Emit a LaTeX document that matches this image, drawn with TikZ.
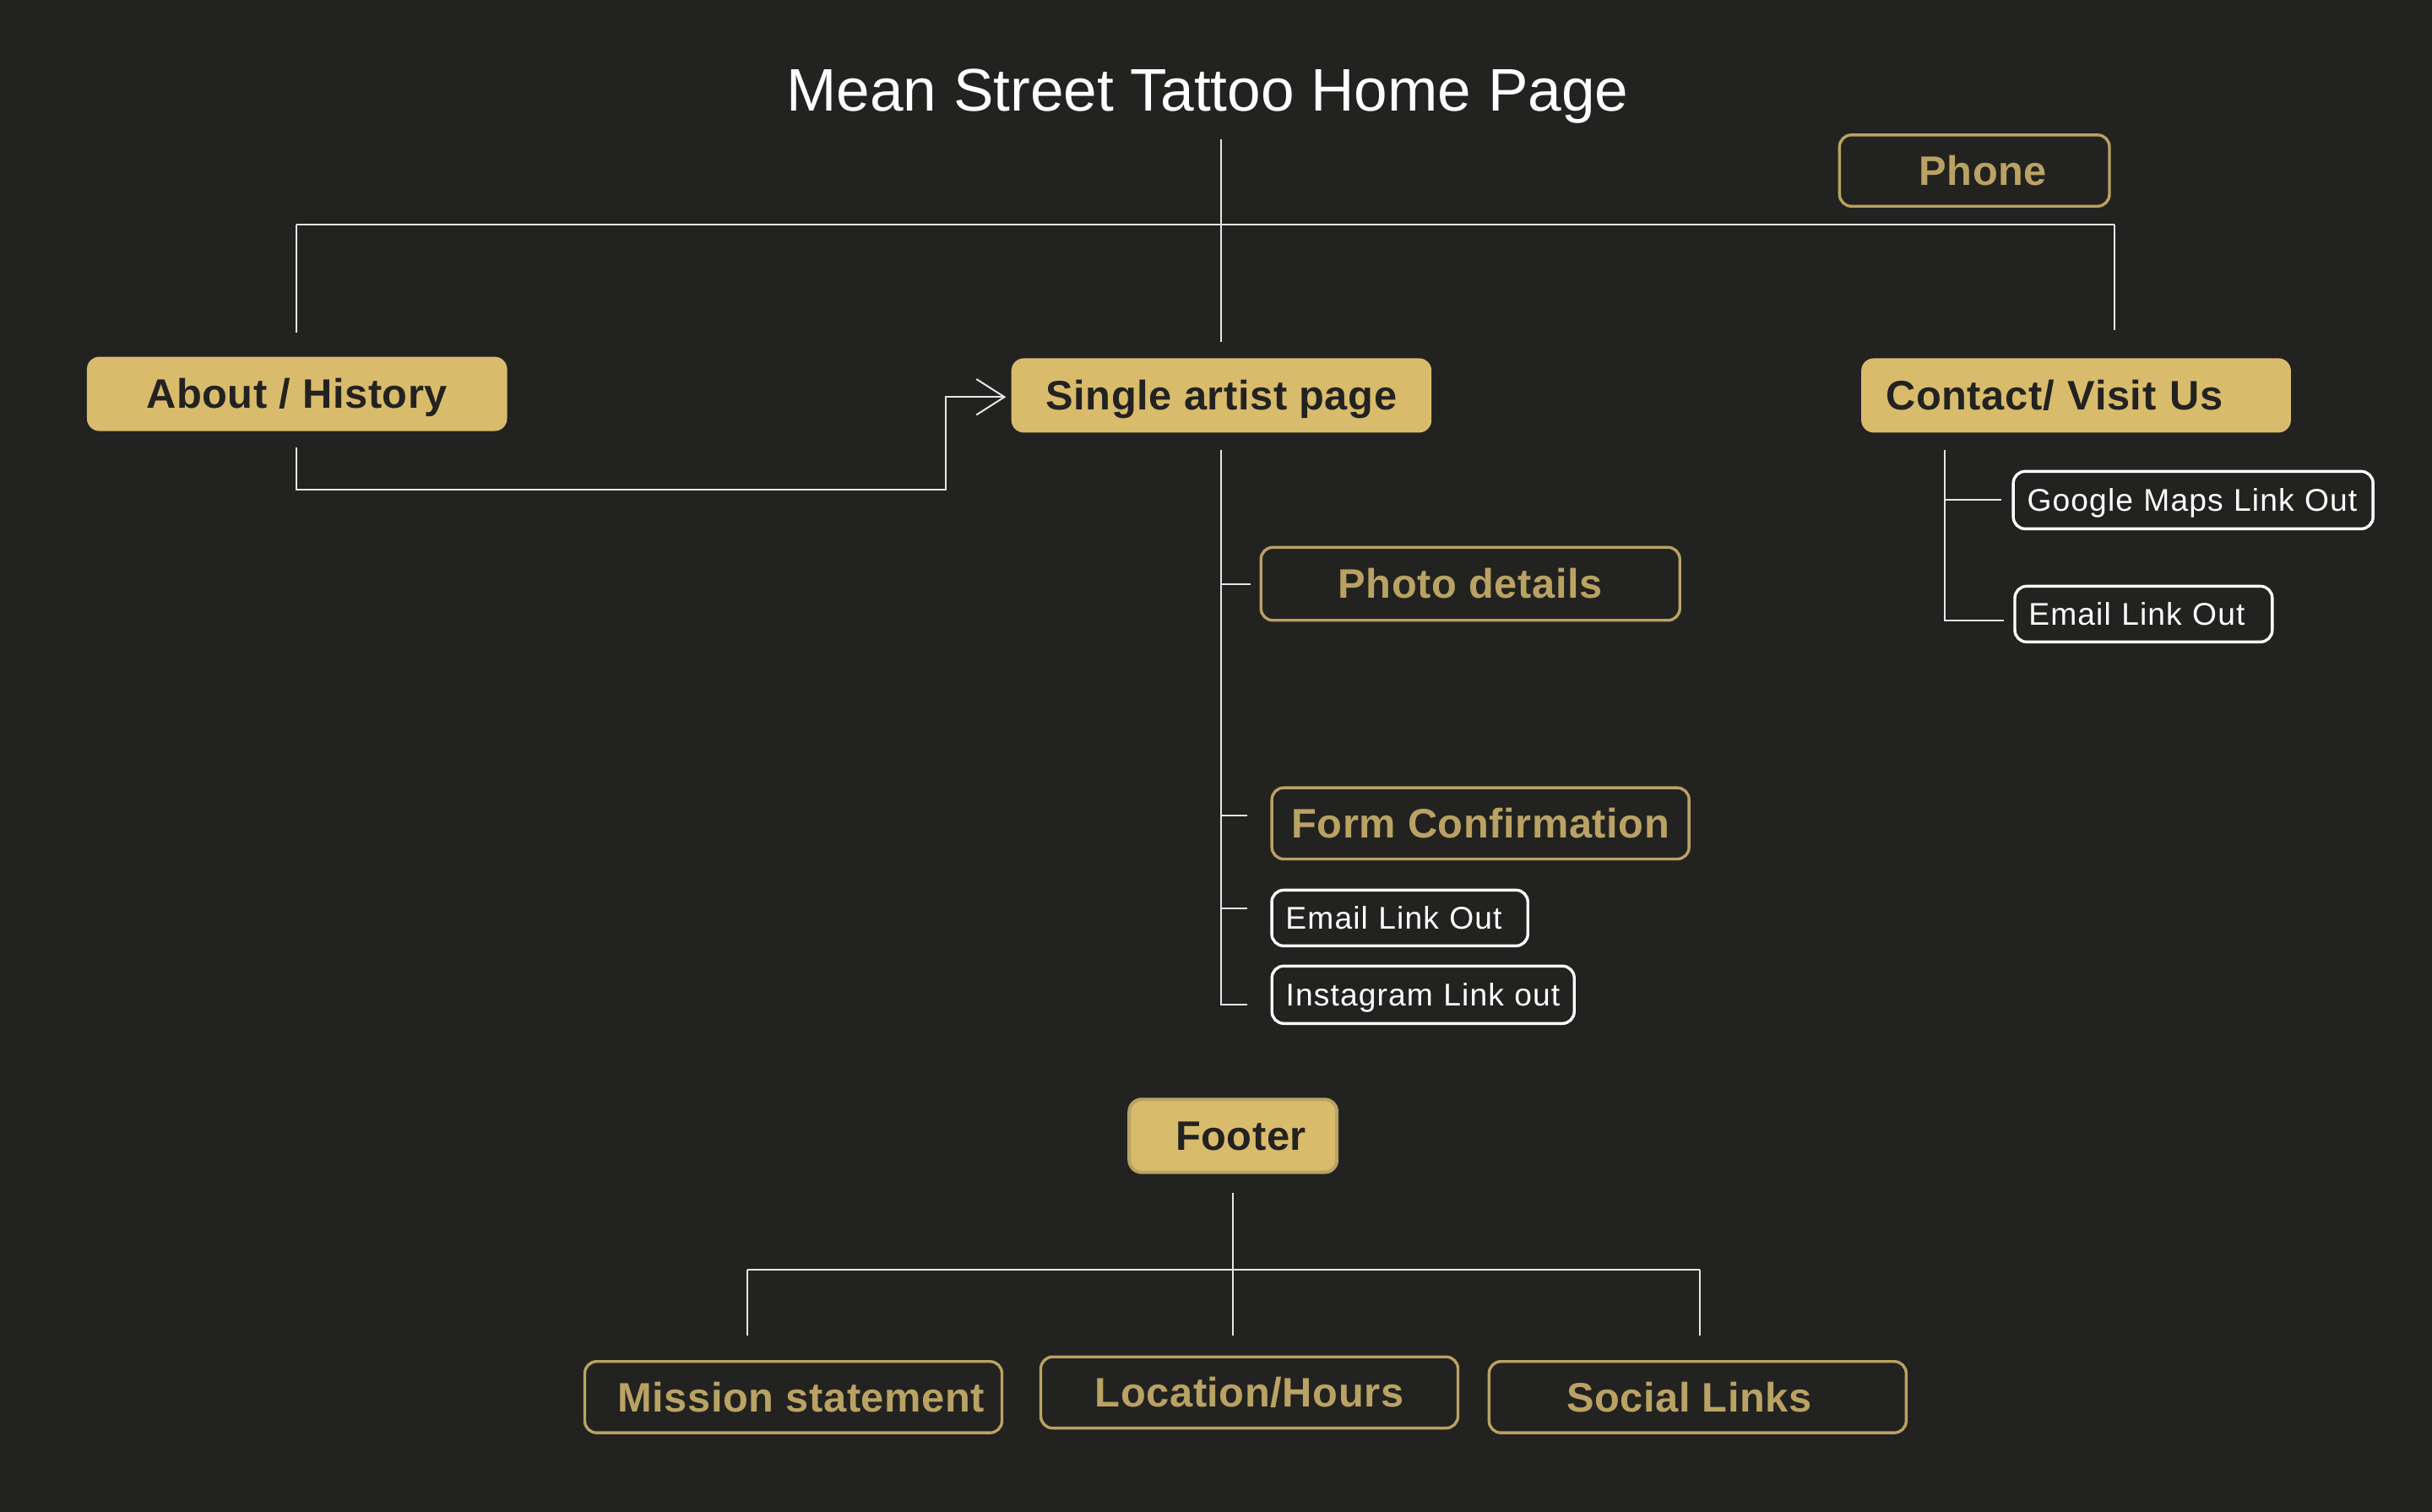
\documentclass[tikz,border=0pt]{standalone}
\usepackage{fontspec}
\setmainfont{Liberation Sans}
\newfontfamily\labfont{Liberation Sans}[LetterSpace=1.2]
\newfontfamily\linkfont{Liberation Sans}[LetterSpace=3]
\usetikzlibrary{arrows.meta,calc}
\definecolor{bg}{HTML}{222220}
\definecolor{gold}{HTML}{D9BB6C}
\definecolor{goldline}{HTML}{B9A263}
\definecolor{ink}{HTML}{222220}
\definecolor{linec}{HTML}{E6E6E6}
\tikzset{
  conn/.style={draw=linec, line width=0.5pt},
  boxbase/.style={inner sep=0pt, text height=8.7pt, text depth=0pt,
    font=\labfont\bfseries\fontsize{12.2pt}{14pt}\selectfont},
  filledbox/.style={boxbase, fill=gold, text=ink, rounded corners=3.7pt},
  goldbox/.style={boxbase, draw=goldline, line width=0.85pt, text=goldline, rounded corners=3.5pt},
  linkbox/.style={draw=white, line width=0.85pt, text=white, rounded corners=3.5pt,
    inner ysep=0pt, inner xsep=4.1pt, align=left, text height=6.6pt, text depth=0pt,
    font=\linkfont\fontsize{9.3pt}{11pt}\selectfont},
}
\begin{document}
\begin{tikzpicture}[x=0.4592pt,y=-0.4592pt]
\fill[bg] (0,0) rectangle (1568,975);
\useasboundingbox (0,0) rectangle (1568,975);

% title
\node[anchor=base, inner sep=0pt, text=white, font=\fontsize{17.8pt}{20pt}\selectfont] (title) at (778.5,71.7) {Mean Street Tattoo Home Page};

% top level
\node[goldbox, minimum width=79.9pt, minimum height=21.1pt] (phone) at (1273,110) {\kern5pt Phone};
\node[filledbox, minimum width=124.4pt, minimum height=22pt] (about) at (191.5,254) {About / History};
\node[filledbox, minimum width=124.4pt, minimum height=22pt] (single) at (787.5,255) {Single artist page};
\node[filledbox, minimum width=127.2pt, minimum height=22pt, inner xsep=7.3pt, text width=112.6pt, align=left] (contact) at (1338.5,255) {Contact/ Visit Us};

% single artist children
\node[goldbox, minimum width=124pt, minimum height=21.6pt] (photo) at (948,376.5) {Photo details};
\node[goldbox, minimum width=123.5pt, minimum height=21.1pt] (form) at (954.5,531) {Form Confirmation};
\node[linkbox, text width=67.6pt, minimum height=16.5pt] (emailM) at (902.5,592) {Email Link Out};
\node[linkbox, text width=81.3pt, minimum height=17pt] (insta) at (917.5,641.5) {Instagram Link out};

% contact children
\node[linkbox, text width=98.3pt, minimum height=17pt] (google) at (1414,322.5) {Google Maps Link Out};
\node[linkbox, text width=68pt, minimum height=16.5pt] (emailR) at (1382,396) {Email Link Out};

% footer
\node[filledbox, draw=goldline, line width=1pt, minimum width=61.5pt, minimum height=21.6pt] (footer) at (795,732.5) {\kern4.6pt Footer};
\node[goldbox, minimum width=123.5pt, minimum height=21.1pt] (mission) at (511.5,901) {\kern4.6pt Mission statement};
\node[goldbox, minimum width=123.5pt, minimum height=21.1pt] (location) at (805.5,898) {Location/Hours};
\node[goldbox, minimum width=123.5pt, minimum height=21.1pt] (social) at (1094.5,901) {Social Links\kern5pt};

% top connectors
\coordinate (tTop) at (787,90);
\draw[conn] (tTop) -- ($(tTop |- single.north)+(0,-10)$);
\coordinate (busL) at (191,145);
\coordinate (busR) at (1363,145);
\draw[conn] (busL) -- (busR);
\draw[conn] (busL) -- ($(busL |- about.north)+(0,-15)$);
\draw[conn] (busR) -- ($(busR |- contact.north)+(0,-18)$);

% about -> single arrow
\coordinate (jog) at (610,316);
\draw[conn, -{Straight Barb[length=8.3pt,width=10.6pt]}] ($(busL |- about.south)+(0,10)$) |- (jog) |- ($(single.west)+(-3,1)$);

% single artist tree
\coordinate (sTop) at (787,290);
\coordinate (sBot) at (787,648);
\draw[conn] (sTop) -- (sBot) -- ($(insta.west)+(-15,6.5)$);
\draw[conn] (sTop |- photo.west) -- ($(photo.west)+(-6,0)$);
\draw[conn] ($(sTop |- form.west)+(0,-5)$) -- ($(form.west)+(-15,-5)$);
\draw[conn] ($(sTop |- emailM.west)+(0,-6)$) -- ($(emailM.west)+(-15,-6)$);

% contact tree
\coordinate (cTop) at (1254,290);
\draw[conn] (cTop) |- ($(emailR.west)+(-6,4)$);
\draw[conn] (cTop |- google.west) -- ($(google.west)+(-7,0)$);

% footer tree
\draw[conn] ($(footer.south)+(0,12)$) -- ($(footer.south |- location.north)+(0,-13)$);
\coordinate (fL) at (482,819);
\coordinate (fR) at (1096,819);
\draw[conn] (fL) -- (fR);
\draw[conn] (fL) -- ($(fL |- mission.north)+(0,-16)$);
\draw[conn] (fR) -- ($(fR |- social.north)+(0,-16)$);
\end{tikzpicture}
\end{document}
